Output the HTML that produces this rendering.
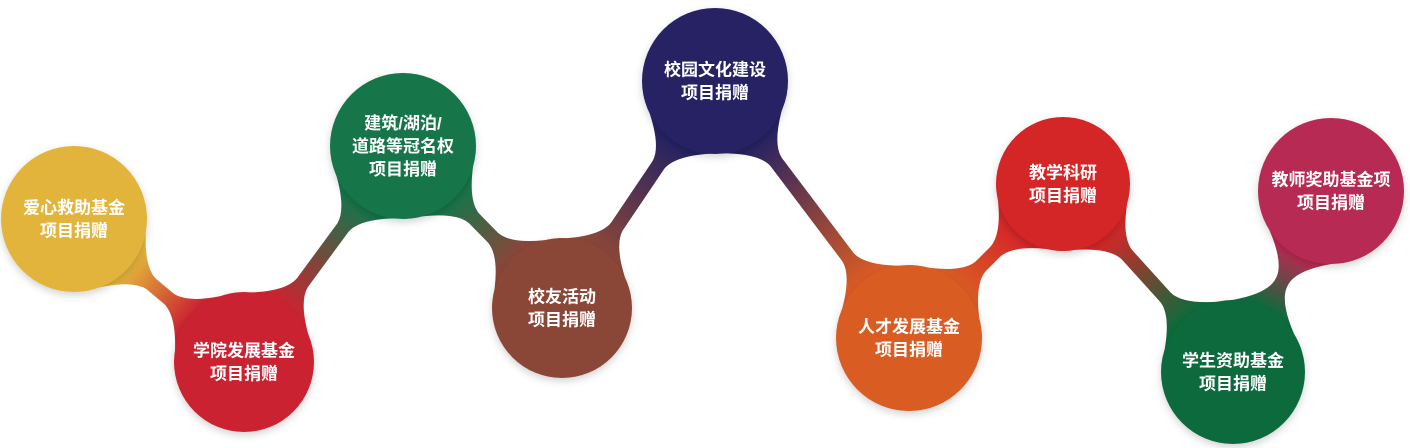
<!DOCTYPE html>
<html><head><meta charset="utf-8"><style>
html,body{margin:0;padding:0;background:#fff;width:1410px;height:448px;overflow:hidden}
svg{display:block}
text{font-family:"Liberation Sans","Noto Sans CJK SC",sans-serif;font-weight:bold;font-size:17px;fill:#fff}
</style></head><body>
<svg id="s" width="1410" height="448" xmlns="http://www.w3.org/2000/svg">
<defs><filter id="sh" x="-20%" y="-20%" width="140%" height="140%"><feDropShadow dx="0" dy="3" stdDeviation="4" flood-color="#000" flood-opacity="0.18"/></filter></defs>
<g id="conn"></g><g id="circ"></g>
</svg>
<script>
var N=[
 [74,219,73,"#e3b43a",["爱心救助基金","项目捐赠"]],
 [244,362,70,"#cb2431",["学院发展基金","项目捐赠"]],
 [403,146,73,"#15754a",["建筑/湖泊/","道路等冠名权","项目捐赠"]],
 [562,308,70,"#8a4639",["校友活动","项目捐赠"]],
 [715,81,73,"#252263",["校园文化建设","项目捐赠"]],
 [909,338,73,"#d95b24",["人才发展基金","项目捐赠"]],
 [1063,184,67,"#d42628",["教学科研","项目捐赠"]],
 [1233,372,72,"#0f6a3c",["学生资助基金","项目捐赠"]],
 [1331,191,73,"#b72a52",["教师奖助基金项","项目捐赠"]]
];
var ns="http://www.w3.org/2000/svg",s=document.getElementById('s'),defs=s.querySelector('defs'),
cg=document.getElementById('conn'),og=document.getElementById('circ');
function el(t,a,p){var e=document.createElementNS(ns,t);for(var k in a)e.setAttribute(k,a[k]);p.appendChild(e);return e;}
function flare(C,r,d,n){
 var a=0.75,ca=Math.cos(a),sa=Math.sin(a);
 var p1=[C[0]+r*(d[0]*ca-d[1]*sa),C[1]+r*(d[1]*ca+d[0]*sa)];
 var p2=[C[0]+r*(d[0]*ca+d[1]*sa),C[1]+r*(d[1]*ca-d[0]*sa)];
 var L=r+28,w=7;
 var q1=[C[0]+d[0]*L+n[0]*w,C[1]+d[1]*L+n[1]*w];
 var q2=[C[0]+d[0]*L-n[0]*w,C[1]+d[1]*L-n[1]*w];
 var m=r+8;
 var c1=[C[0]+d[0]*m+n[0]*w*1.3,C[1]+d[1]*m+n[1]*w*1.3];
 var c2=[C[0]+d[0]*m-n[0]*w*1.3,C[1]+d[1]*m-n[1]*w*1.3];
 // ensure p1 on +n side
 var s1=(p1[0]-C[0])*n[0]+(p1[1]-C[1])*n[1];
 if(s1<0){var t=p1;p1=p2;p2=t;}
 return "M"+C[0]+","+C[1]+"L"+p1+"Q"+c1+" "+q1+"L"+q2+"Q"+c2+" "+p2+"Z";
}
for(var i=0;i<N.length-1;i++){
 var A=N[i],B=N[i+1],dx=B[0]-A[0],dy=B[1]-A[1],l=Math.hypot(dx,dy),d=[dx/l,dy/l],n=[-d[1],d[0]];
 var g=el('linearGradient',{id:'g'+i,gradientUnits:'userSpaceOnUse',x1:A[0]+d[0]*A[2],y1:A[1]+d[1]*A[2],x2:B[0]-d[0]*B[2],y2:B[1]-d[1]*B[2]},defs);
 el('stop',{offset:'0','stop-color':A[3]},g);el('stop',{offset:'1','stop-color':B[3]},g);
 el('line',{x1:A[0],y1:A[1],x2:B[0],y2:B[1],stroke:'url(#g'+i+')','stroke-width':14},cg);
 el('path',{d:flare([A[0],A[1]],A[2],d,n),fill:'url(#g'+i+')'},cg);
 el('path',{d:flare([B[0],B[1]],B[2],[-d[0],-d[1]],[-n[0],-n[1]]),fill:'url(#g'+i+')'},cg);
}
N.forEach(function(c){
 el('circle',{cx:c[0],cy:c[1],r:c[2],fill:c[3],filter:'url(#sh)'},og);
 var L=c[4],lh=23,y0=c[1]-(L.length-1)*lh/2+6;
 L.forEach(function(t,j){var e=el('text',{x:c[0],y:y0+j*lh,'text-anchor':'middle'},og);e.textContent=t;});
});
</script>
</body></html>
